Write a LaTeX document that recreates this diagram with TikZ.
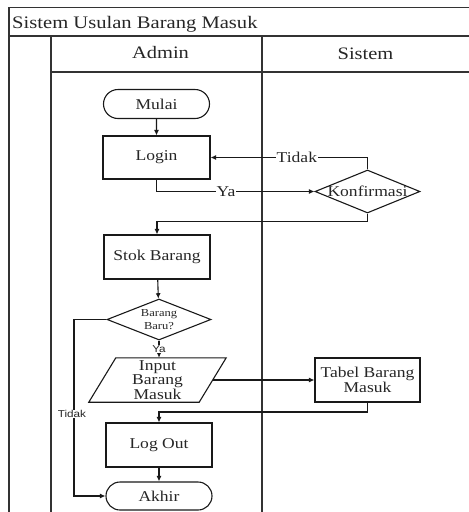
\documentclass[tikz,border=0pt]{standalone}
\usepackage{fontspec}
\setmainfont{Liberation Serif}[FakeStretch=1.17]
\setsansfont{Liberation Sans}[FakeStretch=1.17]
\usetikzlibrary{arrows.meta,shapes.geometric,shapes.misc}

\begin{document}
\begin{tikzpicture}[x=1pt,y=-1pt,
  frameline/.style={line width=1.6pt, draw=black!80},
  flow/.style={line width=1.1pt, draw=black!90},
  arr/.style={flow, -{Latex[length=5.5pt,width=5pt]}},
  nodetext/.style={font=\fontsize{15}{14.5}\selectfont, text=black!85, align=center},
  proc/.style={nodetext, draw=black!90, line width=1.1pt, rectangle,
    minimum width=106pt, minimum height=44pt, inner sep=0pt},
  term/.style={nodetext, draw=black!90, line width=1.1pt, rounded rectangle,
    minimum width=106pt, minimum height=29pt, inner sep=0pt},
  dec/.style={diamond, draw=black!90, line width=1.1pt, inner sep=0pt},
  ioshape/.style={nodetext, draw=none, rectangle,
    minimum width=110pt, minimum height=44pt, inner sep=0pt},
  edgelbl/.style={fill=white, inner sep=1pt, text=black!85,
    font=\fontsize{15}{15}\selectfont},
  smalllbl/.style={fill=white, inner sep=0.5pt, text=black!85,
    font=\sffamily\fontsize{10}{10}\selectfont},
  headtext/.style={text=black!85, font=\fontsize{17.5}{20}\selectfont, inner sep=0pt}
]
\useasboundingbox (0,0) rectangle (469,512);
\clip (0,0) rectangle (469,512);

% swimlane frame
\draw[frameline] (9,512) -- (9,7.5) -- (470,7.5);
\draw[frameline] (9,36) -- (470,36);
\draw[frameline] (51,72) -- (470,72);
\draw[frameline] (51,36) -- (51,512);
\draw[frameline] (262,36) -- (262,512);

% titles
\node[headtext, anchor=base west, font=\fontsize{17.6}{20}\selectfont] (title) at (12,28) {Sistem Usulan Barang Masuk};
\node[headtext, anchor=base] (admin) at (160.5,58.7) {Admin};
\node[headtext, anchor=base] (sistem) at (365.5,59) {Sistem};

% flowchart nodes
\node[term] (mulai) at (156.5,104) {Mulai};
\node[proc, minimum width=107pt, minimum height=43pt] (login) at (156.5,157.5) {Login};
\node[dec, minimum width=105pt, minimum height=43pt,
  label={[nodetext]center:Konfirmasi}] (konf) at (367.5,191.5) {};
\node[proc] (stok) at (157,257) {Stok Barang};
\node[dec, minimum width=104pt, minimum height=41pt,
  label={[text=black!85, align=center, font=\fontsize{10.7}{13}\selectfont]center:Barang\\Baru?}] (baru) at (159,319.5) {};
\node[ioshape] (input) at (157.5,380) {Input\\Barang\\Masuk};
\draw[flow] ([xshift=13.5pt]input.north west) -- ([xshift=13.5pt]input.north east)
  -- ([xshift=-13.5pt]input.south east) -- ([xshift=-13.5pt]input.south west) -- cycle;
\node[proc, minimum width=105pt, minimum height=44pt, font=\fontsize{15}{13.5}\selectfont] (tabel) at (367.5,380) {Tabel Barang\\Masuk};
\node[proc] (logout) at (159,445) {Log Out};
\node[term, minimum height=28pt] (akhir) at (159,496) {Akhir};

% turning points
\coordinate (konfdrop) at (367.5,221.7);
\coordinate (tabeldrop) at (367.5,412);
\coordinate (tidakcol) at (74,0);

% connectors
\draw[arr] (mulai) -- (login);
\draw[arr] (konf.north) |- (login.east) node[edgelbl, pos=0.725] (tidak1) {Tidak};
\draw[arr] (login.south) |- (konf.west) node[edgelbl, pos=0.72] (ya1) {Ya};
\draw[arr] (konf.south) -- (konfdrop) -| (stok.north);
\draw[arr] (stok) -- (baru);
\draw[arr] (baru.south) -- (baru.south |- input.north) node[smalllbl, pos=0.5] (ya2) {Ya};
\draw[arr] (baru.west) -| (tidakcol |- akhir.west) -- (akhir.west);
\node[smalllbl] (tidak2) at (72,414) {Tidak};
\draw[arr] (input.east) -- (tabel.west);
\draw[arr] (tabel.south) -- (tabeldrop) -| (logout.north);
\draw[arr] (logout) -- (akhir);
\end{tikzpicture}
\end{document}
